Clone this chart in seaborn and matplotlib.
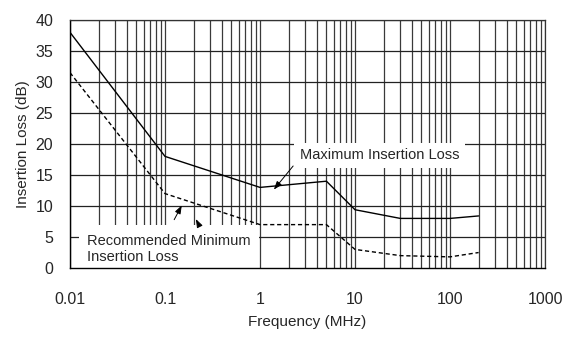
import numpy as np
import pandas as pd
import matplotlib
matplotlib.use("Agg")
import matplotlib.pyplot as plt
import seaborn as sns
from matplotlib.ticker import MultipleLocator, LogLocator, FixedLocator, NullFormatter

# data
freq_mhz = [0.01, 0.1, 1, 5, 10, 30, 100, 200]
max_loss = [38, 18, 13, 14, 9.4, 8, 8, 8.4]
min_loss = [31.5, 12, 7, 7, 3, 2, 1.8, 2.5]
x_ticks = [0.01, 0.1, 1, 10, 100, 1000]
x_tick_labels = ["0.01", "0.1", "1", "10", "100", "1000"]
y_ticks = [0, 5, 10, 15, 20, 25, 30, 35, 40]

df = pd.DataFrame({
    "freq": freq_mhz * 2,
    "loss": max_loss + min_loss,
    "curve": ["max"] * len(freq_mhz) + ["min"] * len(freq_mhz),
})

sns.set_style("white")
plt.rcParams["font.family"] = ["Liberation Sans", "DejaVu Sans"]

fig = plt.figure(figsize=(5.8, 3.38), dpi=100)
ax = fig.add_axes([0.1207, 0.207, 0.819, 0.734])

# grid drawn by hand so the label boxes can sit above it but below the axis
grid_x = [m * 10.0 ** e for e in range(-2, 3) for m in range(1, 10)] + [1000]
for gx in grid_x:
    ax.axvline(gx, color="#3a3a3a", lw=0.9, zorder=0.5)
for gy in y_ticks[1:]:
    ax.axhline(gy, color="#222222", lw=0.9, zorder=0.5)

sns.lineplot(data=df, x="freq", y="loss", style="curve",
             dashes={"max": "", "min": (3, 2)}, color="black",
             lw=1.0, legend=False, ax=ax, zorder=3)

ax.set_xscale("log")
ax.set_xlim(0.01, 1000)
ax.set_ylim(0, 40)
ax.xaxis.set_major_locator(FixedLocator(x_ticks))
ax.set_xticklabels(x_tick_labels)
ax.xaxis.set_minor_locator(LogLocator(base=10, subs=np.arange(2, 10)))
ax.xaxis.set_minor_formatter(NullFormatter())
ax.yaxis.set_major_locator(FixedLocator(y_ticks))
ax.yaxis.set_minor_locator(MultipleLocator(1))
ax.set_axisbelow(False)

ax.tick_params(axis="x", which="major", direction="inout", length=14,
               width=0.9, color="black", pad=10, labelsize=11.5)
ax.tick_params(axis="x", which="minor", direction="in", length=3,
               width=0.8, color="black")
ax.tick_params(axis="y", which="major", direction="in", length=8,
               width=0.9, color="black", pad=12, labelsize=11.5)
ax.tick_params(axis="y", which="minor", direction="in", length=4,
               width=0.8, color="black")

for side in ["left", "bottom"]:
    ax.spines[side].set_color("black")
    ax.spines[side].set_linewidth(1.0)
for side in ["top", "right"]:
    ax.spines[side].set_color("#333333")
    ax.spines[side].set_linewidth(0.9)

ax.set_xlabel("Frequency (MHz)", fontsize=11, labelpad=6)
ax.set_ylabel("Insertion Loss (dB)", fontsize=11, labelpad=4)

ax.text(18, 18.2, "Maximum Insertion Loss", fontsize=10.5, ha="center",
        va="center", bbox=dict(facecolor="white", edgecolor="none", pad=4),
        zorder=2)
ax.text(0.0151, 3.1, "Recommended Minimum\nInsertion Loss", fontsize=10.5,
        ha="left", va="center", linespacing=1.2,
        bbox=dict(facecolor="white", edgecolor="none", pad=6), zorder=2)

arrow = dict(arrowstyle="-|>,head_length=0.5,head_width=0.18", color="black", lw=0.7)
ax.annotate("", xy=(1.34, 12.3), xytext=(2.33, 16.8), arrowprops=arrow, zorder=4)
ax.annotate("", xy=(0.155, 10.5), xytext=(0.121, 7.4), arrowprops=arrow, zorder=4)
ax.annotate("", xy=(0.205, 8.3), xytext=(0.228, 6.9), arrowprops=arrow, zorder=4)

fig.savefig("out.png", dpi=100)
